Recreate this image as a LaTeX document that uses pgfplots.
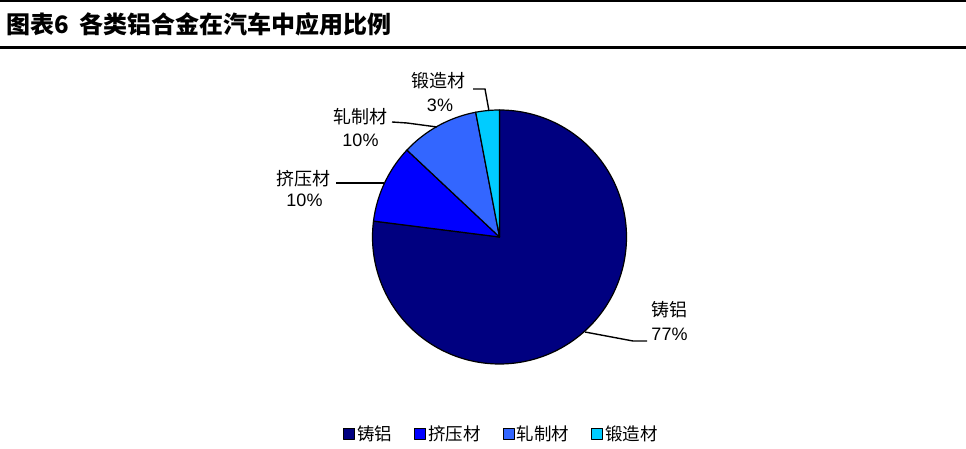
\documentclass[border=0pt]{standalone}
\usepackage{fontspec}
\setmainfont{Liberation Sans}
\newfontfamily\cjk{Noto Sans CJK SC}
\usepackage{pgfplots}
\pgfplotsset{compat=1.18}

\definecolor{cZhu}{HTML}{000080}
\definecolor{cJi}{HTML}{0000FF}
\definecolor{cZha}{HTML}{3366FF}
\definecolor{cDuan}{HTML}{00CCFF}

% shares in percent
\def\vZhu{77}
\def\vJi{10}
\def\vZha{10}
\def\vDuan{3}

% pie centre and radius (axis units = pixels)
\def\cx{499.5}
\def\cy{212}
\def\pr{127}

\begin{document}
\begin{tikzpicture}
\pgfmathsetmacro\bO{90}
\pgfmathsetmacro\bA{\bO-3.6*\vZhu}
\pgfmathsetmacro\bB{\bA-3.6*\vJi}
\pgfmathsetmacro\bC{\bB-3.6*\vZha}
\pgfmathsetmacro\bD{\bC-3.6*\vDuan}
\useasboundingbox (0,0) rectangle (966pt,449pt);
\begin{axis}[
	scale only axis,
	width=966pt, height=449pt,
	xmin=0, xmax=966, ymin=0, ymax=449,
	hide axis, clip=false,
	legend columns=4,
	legend image code/.code={\draw[#1,line width=1pt] (0pt,-5.5pt) rectangle (11pt,5.5pt);},
	legend style={
		at={(0.5191,0.0334)}, anchor=center,
		draw=none, fill=none, inner sep=0pt,
		font=\cjk\fontsize{17.5}{18}\selectfont,
		/tikz/every even column/.append style={column sep=20pt},
		nodes={inner sep=2pt},
	},
	]
	\addplot[fill=cZhu, draw=black, line width=1.2pt, line join=round, domain=\bA:\bO, samples=200]
		({\cx+\pr*cos(x)}, {\cy+\pr*sin(x)}) -- (\cx,\cy) -- cycle;
	\addplot[fill=cJi, draw=black, line width=1.2pt, line join=round, domain=\bB:\bA, samples=40]
		({\cx+\pr*cos(x)}, {\cy+\pr*sin(x)}) -- (\cx,\cy) -- cycle;
	\addplot[fill=cZha, draw=black, line width=1.2pt, line join=round, domain=\bC:\bB, samples=40]
		({\cx+\pr*cos(x)}, {\cy+\pr*sin(x)}) -- (\cx,\cy) -- cycle;
	\addplot[fill=cDuan, draw=black, line width=1.2pt, line join=round, domain=\bD:\bC, samples=20]
		({\cx+\pr*cos(x)}, {\cy+\pr*sin(x)}) -- (\cx,\cy) -- cycle;
	\legend{铸铝,挤压材,轧制材,锻造材}

	% title and rules
	\draw[line width=2pt] (0,448) -- (966,448);
	\draw[line width=2.5pt] (0,401.25) -- (966,401.25);
	\node[anchor=west, inner sep=0pt, font=\cjk\bfseries\fontsize{24}{26}\selectfont]
		at (6,424.5) {图表6\hspace{0.45em}各类铝合金在汽车中应用比例};

	% leader lines
	\draw[line width=1.4pt] (473,360) -- (485,360) -- (489,338);
	\draw[line width=1.4pt] (392,327) -- (407,326) -- (437,322);
	\draw[line width=1.4pt] (336,266) -- (384,266);
	\draw[line width=1.4pt] (585,117) -- (633,108) -- (647,108);

	% data labels
	\tikzset{lab/.style={inner sep=0pt, font=\fontsize{18}{20}\selectfont}}
	\node[lab] at (438,368) {\cjk 锻造材};
	\node[lab] at (440,344) {3\%};
	\node[lab] at (360,332) {\cjk 轧制材};
	\node[lab] at (360.5,309) {10\%};
	\node[lab] at (303.5,270.5) {\cjk 挤压材};
	\node[lab] at (304.5,249) {10\%};
	\node[lab] at (669.5,139) {\cjk 铸铝};
	\node[lab] at (669.5,115) {77\%};
\end{axis}
\end{tikzpicture}
\end{document}
